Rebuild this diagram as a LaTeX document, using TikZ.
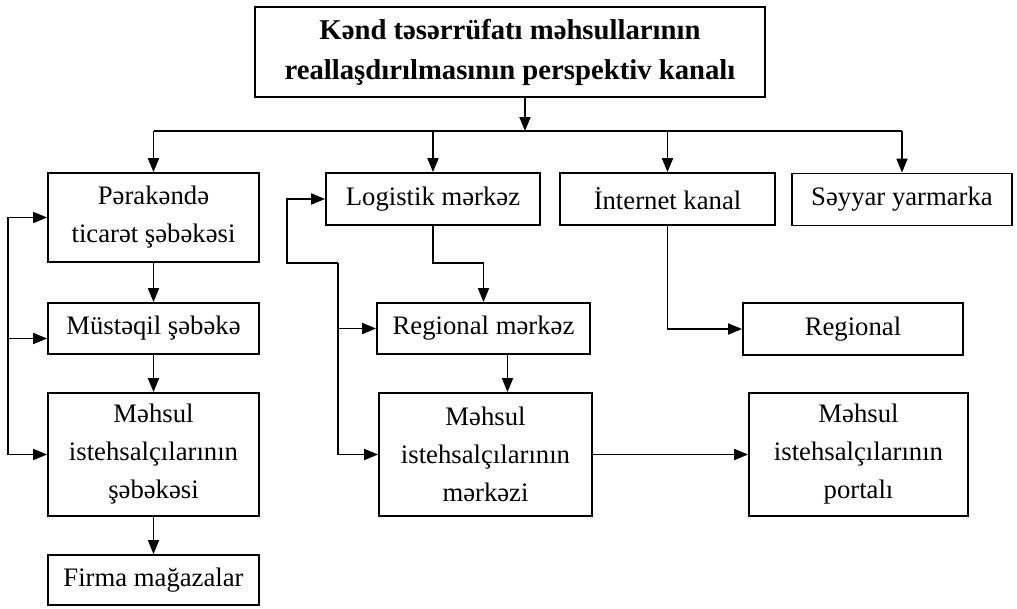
\documentclass[tikz,border=0pt]{standalone}
\usepackage{fontspec}
\setmainfont{Liberation Serif}
\usetikzlibrary{arrows.meta}

\begin{document}
\begin{tikzpicture}[x=1pt, y=-1pt, line width=1.8pt,
  box/.style={draw, rectangle, inner sep=0, align=center, minimum height=52,
    font=\fontsize{26.7}{38}\selectfont},
  arr/.style={-{Triangle[length=14pt, width=11pt]}}]
\useasboundingbox (0, 0) rectangle (1017, 608);
\node[box, minimum width=510, minimum height=90, font=\fontsize{28.7}{40}\selectfont\bfseries] (title) at (510, 52) {Kənd təsərrüfatı məhsullarının\\reallaşdırılmasının perspektiv kanalı};
\node[box, minimum width=211, minimum height=89] (perak) at (153.5, 217.5) {Pərakəndə\\ticarət şəbəkəsi};
\node[box, minimum width=214] (logist) at (433, 199) {Logistik mərkəz};
\node[box, minimum width=215] (inet) at (667.5, 199) {İnternet kanal};
\node[box, minimum width=220] (seyyar) at (902, 199.5) {Səyyar yarmarka};
\node[box, minimum width=211, minimum height=51] (mustaqil) at (153.5, 328.5) {Müstəqil şəbəkə};
\node[box, minimum width=211, minimum height=123] (mehsulL) at (153.5, 454.5) {Məhsul\\istehsalçılarının\\şəbəkəsi};
\node[box, minimum width=211, minimum height=50] (firma) at (153.5, 580) {Firma mağazalar};
\node[box, minimum width=213, minimum height=51] (regm) at (483.5, 328.5) {Regional mərkəz};
\node[box, minimum width=213, minimum height=123] (mehsulM) at (485.5, 454.5) {Məhsul\\istehsalçılarının\\mərkəzi};
\node[box, minimum width=220] (regional) at (853, 329) {Regional};
\node[box, minimum width=219, minimum height=123] (portal) at (858.5, 454.5) {Məhsul\\istehsalçılarının\\portalı};
\coordinate (bus) at (525, 131);
\coordinate (lloop) at (8, 0);
\coordinate (mq) at ([yshift=-10]mustaqil.west);
\coordinate (m1) at (287, 263);
\coordinate (m2) at (338, 263);
\draw[arr] ([xshift=15]title.south) -- (bus);
\draw (perak.north |- bus) -- (seyyar.north |- bus);
\foreach \n in {perak, logist, inet, seyyar}
  \draw[arr] (\n.north |- bus) -- (\n.north);
\draw[arr] (perak) -- (mustaqil);
\draw[arr] (mustaqil) -- (mehsulL);
\draw[arr] (mehsulL) -- (firma);
\draw[arr] (lloop |- mehsulL.west) -- (mehsulL.west);
\draw[arr] (lloop |- mehsulL.west) |- (perak.west);
\draw[arr] (lloop |- mq) -- (mq);
\draw[arr] (m2) -- (m1) |- (logist.west);
\draw[arr] (m2) |- (mehsulM.west);
\draw[arr] (m2 |- regm.west) -- (regm.west);
\draw[arr] (logist.south) |- (regm.north |- m1) -- (regm.north);
\draw[arr] ([xshift=24]regm.south) -- ([xshift=24]regm.south |- mehsulM.north);
\draw[arr] (inet.south) |- (regional.west);
\draw[arr] (mehsulM.east) -- (portal.west);
\end{tikzpicture}
\end{document}
